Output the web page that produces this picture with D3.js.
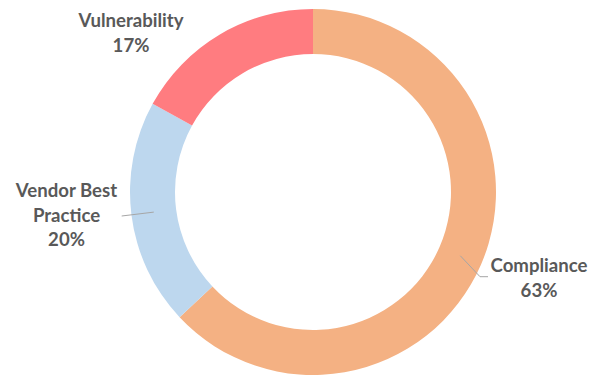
<!DOCTYPE html>
<html>
<head>
<meta charset="utf-8">
<script src="https://cdn.jsdelivr.net/npm/d3@7"></script>
<style>
  body { margin: 0; background: #fff; }
  svg { display: block; }
  .label { font-family: Lato, "Open Sans", sans-serif; font-weight: bold; font-size: 18.6px; fill: #595959; }
</style>
</head>
<body>
<svg id="root"></svg>
<script>
const categories = ['Compliance', 'Vendor Best Practice', 'Vulnerability'];
const values = [63, 20, 17];
const labelLines = [['Compliance'], ['Vendor Best', 'Practice'], ['Vulnerability']];
const colors = ['#F4B183', '#BDD7EE', '#FF7C80'];

const width = 605, height = 379;
const cx = 313, cy = 192;
const outerR = 183, innerR = 138;
const lineH = 24.5;

// label anchor (center x, first baseline) relative to the donut center
const labelPos = [
  { x: 226, y: 80 },
  { x: -246.5, y: 5 },
  { x: -182, y: -165 }
];
// leader line end points relative to the center (null = no leader)
const leaders = [
  [[167, 84.7], [175, 84.7]],
  [[-191.3, 24]],
  null
];

const svg = d3.select('#root')
  .attr('width', width)
  .attr('height', height);

const g = svg.append('g')
  .attr('transform', `translate(${cx}, ${cy})`);

const pie = d3.pie().sort(null).value(d => d);
const arcs = pie(values);
const arc = d3.arc().innerRadius(innerR).outerRadius(outerR);
const total = d3.sum(values);
const pct = d3.format('.0%');

g.selectAll('path.slice')
  .data(arcs)
  .enter().append('path')
  .attr('class', 'slice')
  .attr('d', arc)
  .attr('fill', (d, i) => colors[i]);

// leader lines from slice centroid
arcs.forEach((d, i) => {
  if (!leaders[i]) return;
  const pts = [arc.centroid(d)].concat(leaders[i]);
  g.append('path')
    .attr('d', d3.line()(pts))
    .attr('fill', 'none')
    .attr('stroke', '#A6A6A6')
    .attr('stroke-width', 1);
});

arcs.forEach((d, i) => {
  const lines = labelLines[i].concat([pct(values[i] / total)]);
  const t = g.append('text')
    .attr('class', 'label')
    .attr('text-anchor', 'middle')
    .attr('x', labelPos[i].x)
    .attr('y', labelPos[i].y);
  lines.forEach((s, j) => {
    t.append('tspan')
      .attr('x', labelPos[i].x)
      .attr('y', labelPos[i].y + j * lineH)
      .text(s);
  });
});
</script>
</body>
</html>
